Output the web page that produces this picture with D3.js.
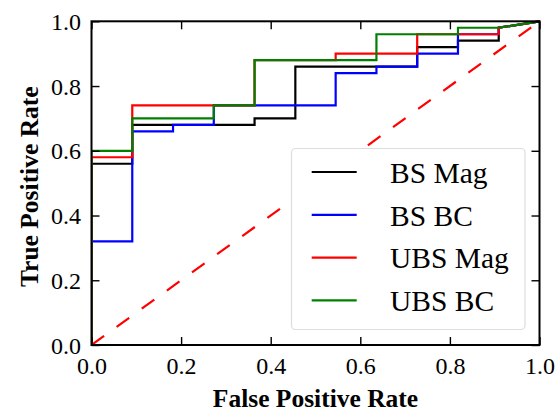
<!DOCTYPE html>
<html>
<head>
<meta charset="utf-8">
<script src="https://cdn.jsdelivr.net/npm/d3@7"></script>
<style>
  html, body { margin: 0; padding: 0; background: #fff; }
  svg { display: block; }
  text { font-family: "Liberation Serif", "Times New Roman", serif; }
</style>
</head>
<body>
<script>
// ---- data (ROC curve vertices) ----
const seriesNames = ["BS Mag", "BS BC", "UBS Mag", "UBS BC"];
const seriesColors = ["#000000", "#0000ff", "#ff0000", "#008000"];

const fprBSMag = [0, 0, 0.091, 0.091, 0.364, 0.364, 0.455, 0.455, 0.727, 0.727, 0.818, 0.818, 0.909, 0.909, 1.0];
const tprBSMag = [0, 0.56, 0.56, 0.68, 0.68, 0.70, 0.70, 0.86, 0.86, 0.92, 0.92, 0.94, 0.94, 0.98, 1.0];

const fprBSBC = [0, 0, 0.091, 0.091, 0.182, 0.182, 0.273, 0.273, 0.545, 0.545, 0.636, 0.636, 0.727, 0.727, 0.818, 0.818, 0.909, 0.909, 1.0];
const tprBSBC = [0, 0.32, 0.32, 0.66, 0.66, 0.68, 0.68, 0.74, 0.74, 0.84, 0.84, 0.86, 0.86, 0.90, 0.90, 0.96, 0.96, 0.98, 1.0];

const fprUBSMag = [0, 0, 0.091, 0.091, 0.364, 0.364, 0.545, 0.545, 0.727, 0.727, 0.909, 0.909, 1.0];
const tprUBSMag = [0, 0.58, 0.58, 0.74, 0.74, 0.88, 0.88, 0.90, 0.90, 0.96, 0.96, 0.98, 1.0];

const fprUBSBC = [0, 0, 0.091, 0.091, 0.273, 0.273, 0.364, 0.364, 0.636, 0.636, 0.818, 0.818, 0.909, 1.0];
const tprUBSBC = [0, 0.60, 0.60, 0.70, 0.70, 0.74, 0.74, 0.88, 0.88, 0.96, 0.96, 0.98, 0.98, 1.0];

const chanceFpr = [0, 1];
const chanceTpr = [0, 1];

const xTicks = [0.0, 0.2, 0.4, 0.6, 0.8, 1.0];
const yTicks = [0.0, 0.2, 0.4, 0.6, 0.8, 1.0];
const xLabel = "False Positive Rate";
const yLabel = "True Positive Rate";

const series = [
  { name: seriesNames[0], color: seriesColors[0], fpr: fprBSMag, tpr: tprBSMag },
  { name: seriesNames[1], color: seriesColors[1], fpr: fprBSBC, tpr: tprBSBC },
  { name: seriesNames[2], color: seriesColors[2], fpr: fprUBSMag, tpr: tprUBSMag },
  { name: seriesNames[3], color: seriesColors[3], fpr: fprUBSBC, tpr: tprUBSBC }
];

// ---- layout ----
const W = 556, H = 412;
const L = 91.5, R = 539.5, T = 21.3, B = 345;

const svg = d3.select("body").append("svg").attr("width", W).attr("height", H);

const x = d3.scaleLinear().domain([0, 1]).range([L, R]);
const y = d3.scaleLinear().domain([0, 1]).range([B, T]);

svg.append("clipPath").attr("id", "clip")
  .append("rect").attr("x", L).attr("y", T - 2).attr("width", R - L + 2).attr("height", B - T + 2);

const line = d3.line().x(d => x(d[0])).y(d => y(d[1]));

const plot = svg.append("g").attr("clip-path", "url(#clip)");

series.forEach(s => {
  const pts = s.fpr.map((f, i) => [f, s.tpr[i]]);
  plot.append("path")
    .attr("d", line(pts))
    .attr("fill", "none")
    .attr("stroke", s.color)
    .attr("stroke-width", 2.2)
    .attr("stroke-linejoin", "miter");
});

plot.append("path")
  .attr("d", line(chanceFpr.map((f, i) => [f, chanceTpr[i]])))
  .attr("fill", "none")
  .attr("stroke", "#ff0000")
  .attr("stroke-width", 2.2)
  .attr("stroke-dasharray", "15.5,15.5");

// ---- axes (ticks inward, on all sides) ----
const tickLen = 8;
const fontTick = 24;

const axB = svg.append("g").attr("transform", `translate(0,${B})`)
  .call(d3.axisBottom(x).tickValues(xTicks).tickFormat(d3.format(".1f")).tickSizeInner(-tickLen).tickSizeOuter(0).tickPadding(12));
const axT = svg.append("g").attr("transform", `translate(0,${T})`)
  .call(d3.axisTop(x).tickValues(xTicks).tickFormat("").tickSizeInner(-tickLen).tickSizeOuter(0));
const axLft = svg.append("g").attr("transform", `translate(${L},0)`)
  .call(d3.axisLeft(y).tickValues(yTicks).tickFormat(d3.format(".1f")).tickSizeInner(-tickLen).tickSizeOuter(0).tickPadding(10.5));
const axRgt = svg.append("g").attr("transform", `translate(${R},0)`)
  .call(d3.axisRight(y).tickValues(yTicks).tickFormat("").tickSizeInner(-tickLen).tickSizeOuter(0));

[axB, axT, axLft, axRgt].forEach(a => {
  a.select(".domain").remove();
  a.selectAll(".tick line").attr("stroke", "#000").attr("stroke-width", 1.4);
  a.selectAll(".tick text")
    .attr("fill", "#000")
    .style("font-family", '"Liberation Serif", serif')
    .style("font-size", fontTick + "px");
});
axB.selectAll(".tick text").attr("dy", "0.71em");
axLft.selectAll(".tick text").attr("dy", "0.34em");

// frame
svg.append("rect")
  .attr("x", L).attr("y", T).attr("width", R - L).attr("height", B - T)
  .attr("fill", "none").attr("stroke", "#000").attr("stroke-width", 2);

// axis labels
svg.append("text")
  .attr("x", (L + R) / 2).attr("y", 407)
  .attr("text-anchor", "middle")
  .style("font-weight", "bold")
  .style("font-size", "25.5px")
  .text(xLabel);

svg.append("text")
  .attr("transform", `translate(38,186.7) rotate(-90)`)
  .attr("text-anchor", "middle")
  .style("font-weight", "bold")
  .style("font-size", "25.5px")
  .text(yLabel);

// ---- legend ----
const lg = svg.append("g");
lg.append("rect")
  .attr("x", 291.5).attr("y", 148.5).attr("width", 233.5).attr("height", 181)
  .attr("rx", 4).attr("ry", 4)
  .attr("fill", "#ffffff")
  .attr("stroke", "#dddddd").attr("stroke-width", 1.2);

const rowY0 = 182.8, rowDy = 42.8;
series.forEach((s, i) => {
  const by = rowY0 + i * rowDy;
  lg.append("line")
    .attr("x1", 311.7).attr("x2", 356.7)
    .attr("y1", by - 10.8).attr("y2", by - 10.8)
    .attr("stroke", s.color).attr("stroke-width", 2.2);
  lg.append("text")
    .attr("x", 390).attr("y", by)
    .style("font-size", "29.5px")
    .attr("fill", "#000")
    .text(s.name);
});
</script>
</body>
</html>
